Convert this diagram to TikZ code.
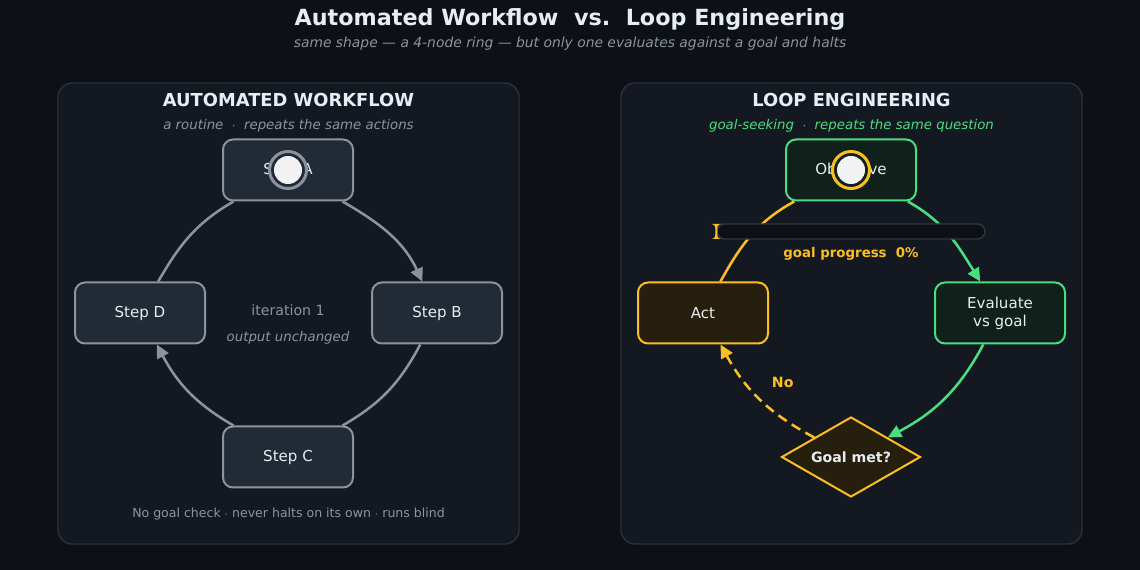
\documentclass[tikz,border=0pt]{standalone}
\usepackage{fontspec}
\setmainfont{DejaVu Sans}
\usetikzlibrary{shapes.geometric, arrows.meta, positioning}
\definecolor{background}{HTML}{0D1017}
\definecolor{panelbg}{HTML}{141921}
\definecolor{panelline}{HTML}{2B3038}
\definecolor{stepbg}{HTML}{222A35}
\definecolor{stepline}{HTML}{8B949E}
\definecolor{textlight}{HTML}{E6EDF3}
\definecolor{textmuted}{HTML}{8B949E}
\definecolor{goalgreen}{HTML}{4ADE80}
\definecolor{greenbg}{HTML}{10201A}
\definecolor{gold}{HTML}{FBBF24}
\definecolor{goldbg}{HTML}{261F0D}
\definecolor{barbg}{HTML}{0D1117}
\definecolor{barline}{HTML}{30363D}

\begin{document}
\begin{tikzpicture}[
                x=0.75pt, y=-0.75pt,
                panel/.style={rectangle, rounded corners=10.5pt, draw=panelline, fill=panelbg, line width=1.1pt, minimum width=345.75pt, minimum height=345.75pt},
                stepbox/.style={rectangle, rounded corners=7.5pt, draw=stepline, fill=stepbg, line width=1.5pt, minimum width=97.5pt, minimum height=45.75pt, inner sep=0pt, align=center, text=textlight, font=\fontsize{11.3}{13.5}\selectfont},
                greenbox/.style={stepbox, draw=goalgreen, fill=greenbg},
                goldbox/.style={stepbox, draw=gold, fill=goldbg},
                decision/.style={diamond, shape aspect=1.74, draw=gold, fill=goldbg, line width=1.5pt, minimum width=104.25pt, minimum height=60pt, inner sep=0pt, text=textlight, font=\bfseries\fontsize{10.6}{12}\selectfont},
                marker/.style={circle, line width=2.25pt, minimum size=27.75pt, inner sep=0pt},
                dot/.style={circle, fill=white!95!black, minimum size=21pt, inner sep=0pt},
                bar/.style={rectangle, rounded corners=5.6pt, draw=barline, fill=barbg, line width=1.1pt, minimum width=201pt, minimum height=11.25pt, inner sep=0pt},
                heading/.style={text=textlight, font=\bfseries\fontsize{13.4}{16}\selectfont},
                note/.style={text=textmuted, font=\itshape\fontsize{10}{12}\selectfont},
                ring/.style={line width=1.9pt, draw=stepline},
                arrow/.style={-{Triangle[length=10pt, width=9.5pt]}}
            ]%
            % Fondo
            \fill[background] (0,0) rectangle (1140,570);
            \useasboundingbox (0,0) rectangle (1140,570);
            %
            % Titulos
            \node[text=textlight, font=\bfseries\fontsize{16.7}{20}\selectfont] (title) at (570,19) {Automated Workflow\ \ vs.\ \ Loop Engineering};
            \node[text=textmuted, font=\itshape\fontsize{10.4}{12.5}\selectfont] (subtitle) at (570,44) {same shape --- a 4-node ring --- but only one evaluates against a goal and halts};
            %
            % Paneles
            \node[panel] (left) at (288.5,313.5) {};
            \node[panel] (right) at (851.5,313.5) {};
            \node[heading] (lefttitle) at (288.5,100) {AUTOMATED WORKFLOW};
            \node[note] (leftsub) at (288.5,126) {a routine\ \ $\cdot$\ \ repeats the same actions};
            \node[heading] (righttitle) at (851.5,100) {LOOP ENGINEERING};
            \node[note, text=goalgreen] (rightsub) at (851.5,126) {goal-seeking\ \ $\cdot$\ \ repeats the same question};
            %
            % Anillo de la izquierda
            \node[stepbox] (stepA) at (288,170) {Step A};
            \node[stepbox] (stepB) at (437,313) {Step B};
            \node[stepbox] (stepC) at (288,457) {Step C};
            \node[stepbox] (stepD) at (140,313) {Step D};
            \node[text=textmuted, font=\fontsize{10.6}{12.5}\selectfont] (iter) at (288,310) {iteration 1};
            \node[note] (unchanged) at (288,338) {output unchanged};
            \node[text=textmuted, font=\fontsize{9.4}{11}\selectfont] (blind) at (288.5,514) {No goal check $\cdot$ never halts on its own $\cdot$ runs blind};
            %
            \draw[ring, arrow] (stepA) to[out=-30, in=115] (stepB);
            \draw[ring] (stepB) to[out=-118, in=30] (stepC);
            \draw[ring, arrow] (stepC) to[out=150, in=-62] (stepD);
            \draw[ring] (stepD) to[out=60, in=-150] (stepA);
            %
            \node[marker, draw=stepline, fill=stepbg] (tokA) at (stepA) {};
            \node[dot] (dotA) at (tokA) {};
            %
            % Bucle de la derecha
            \node[greenbox] (objective) at (851,170) {Objective};
            \node[greenbox] (evaluate) at (1000,313) {Evaluate\\vs goal};
            \node[decision] (goal) at (851,457) {Goal met?};
            \node[goldbox] (act) at (703,313) {Act};
            %
            \draw[ring, draw=goalgreen, arrow] (objective) to[out=-29, in=122] (evaluate);
            \draw[ring, draw=goalgreen, arrow] (evaluate) to[out=-118, in=28] (goal);
            \draw[ring, draw=gold, dashed, dash pattern=on 7.5pt off 4.5pt, arrow] (goal) to[out=152, in=-61] node[pos=0.5, above right=4pt and 5pt, text=gold, font=\bfseries\fontsize{10.6}{12}\selectfont] {No} (act);
            \draw[ring, draw=gold] (act) to[out=61, in=-151] (objective);
            %
            \node[bar] (progress) at (851,231.5) {};
            \fill[gold, shift={(progress.west)}] (-4.5,-7.5) -- (4.5,-7.5) .. controls (1,-6.5) and (1,-5) .. (1,-3) -- (1,3) .. controls (1,5) and (1,6.5) .. (4.5,7.5) -- (-4.5,7.5) .. controls (-1,6.5) and (-1,5) .. (-1,3) -- (-1,-3) .. controls (-1,-5) and (-1,-6.5) .. (-4.5,-7.5) -- cycle;
            \node[text=gold, font=\bfseries\fontsize{10}{12}\selectfont] (progresslabel) at (851,254) {goal progress\ \ 0\%};
            %
            \node[marker, draw=gold, fill=greenbg] (tokB) at (objective) {};
            \node[dot] (dotB) at (tokB) {};
        \end{tikzpicture}
\end{document}
